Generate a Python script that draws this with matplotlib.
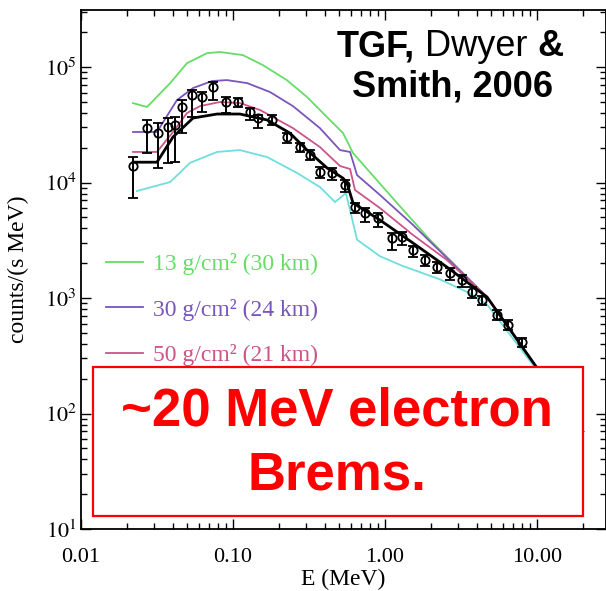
import matplotlib
matplotlib.use("Agg")
import matplotlib.pyplot as plt
import matplotlib.patches as mpatches
from matplotlib.ticker import FixedLocator, NullFormatter, LogLocator
import numpy as np

plt.rcParams['font.family'] = 'Liberation Serif'
plt.rcParams['mathtext.fontset'] = 'stix'

# measured spectrum (E in MeV, counts/(s MeV)) with error bar ends
E_data = [0.0220, 0.0272, 0.0321, 0.0373, 0.0415, 0.0461, 0.0537, 0.0625, 0.0738, 0.0900,
          0.108, 0.129, 0.146, 0.181, 0.226, 0.276, 0.321, 0.373, 0.448, 0.546,
          0.635, 0.738, 0.900, 1.11, 1.29, 1.53, 1.83, 2.20, 2.68, 3.21,
          3.73, 4.35, 5.46, 6.44, 7.96]
C_data = [13900, 29600, 26800, 30200, 31500, 45100, 57200, 55000, 67100, 49800,
          49800, 40800, 36200, 34800, 24800, 20300, 17300, 12300, 12100, 9510,
          6140, 5450, 4930, 3310, 3380, 2610, 2130, 1850, 1650, 1430,
          1130, 961, 713, 584, 416]
C_lo = [7340, 18000, 13400, 14800, 15000, 26800, 36900, 40800, 51800, 40000,
        45100, 34800, 29600, 31500, 22000, 18400, 15700, 10900, 10500, 8280,
        5450, 4550, 4120, 2610, 2880, 2260, 1890, 1650, 1430, 1250,
        1000, 869, 645, 528, 377]
C_hi = [16600, 34800, 32700, 36200, 36900, 51800, 63200, 60800, 74200, 55000,
        53900, 44200, 38400, 38400, 26800, 22000, 19100, 13600, 13400, 10500,
        6650, 6010, 5450, 3660, 3730, 2820, 2360, 2050, 1820, 1580,
        1250, 1040, 787, 645, 451]

# model spectra
E_13 = [0.022, 0.0272, 0.0386, 0.0498, 0.0675, 0.082, 0.116, 0.157, 0.226, 0.307,
        0.415, 0.53, 0.616, 1.2, 1.98, 4.69, 9.7]
C_13 = [48700, 45100, 72600, 108000, 132000, 135000, 127000, 104000, 77100, 55000,
        36900, 26800, 18000, 6650, 3180, 1020, 263]

E_30 = [0.022, 0.0316, 0.0428, 0.0546, 0.0728, 0.0914, 0.124, 0.175, 0.248, 0.373,
        0.506, 0.589, 0.655, 0.927, 1.53, 4.69, 9.7]
C_30 = [27400, 27400, 51800, 65800, 75700, 77100, 72600, 60800, 45900, 29600,
        19100, 18400, 11600, 7800, 4290, 1020, 263]

E_50 = [0.022, 0.0316, 0.0403, 0.0498, 0.0607, 0.082, 0.111, 0.151, 0.248, 0.373,
        0.506, 0.589, 0.635, 0.927, 1.53, 2.56, 4.69, 9.7]
C_50 = [18400, 18400, 27400, 40000, 45900, 49800, 48800, 42400, 29600, 20300,
        13900, 13100, 8610, 6010, 3510, 2130, 1020, 263]

E_cyan = [0.0233, 0.0386, 0.0521, 0.0785, 0.111, 0.168, 0.264, 0.373, 0.469, 0.553,
          0.655, 0.927, 1.3, 2.3, 3.62, 4.69, 9.7]
C_cyan = [8440, 10100, 14800, 18400, 19100, 16600, 12100, 9140, 6780, 8110,
          3200, 2300, 1900, 1450, 1100, 880, 250]

E_best = [0.022, 0.0316, 0.0403, 0.0546, 0.0785, 0.111, 0.168, 0.237, 0.307, 0.415,
          0.53, 0.562, 0.616, 0.927, 1.53, 2.56, 4.69, 9.7, 20]
C_best = [15000, 15000, 24800, 36200, 39200, 39200, 34800, 26800, 19100, 13400,
          10900, 9910, 6650, 4730, 2990, 1850, 1020, 263, 70]

xticks = [0.01, 0.1, 1, 10]
xticklabels = ["0.01", "0.10", "1.00", "10.00"]
yticks = [10, 100, 1000, 10000, 100000]
yticklabels = [r"$10^{1}$", r"$10^{2}$", r"$10^{3}$", r"$10^{4}$", r"$10^{5}$"]

green = "#66dd66"
purple = "#7a55bb"
pink = "#cc5588"
cyan = "#70dede"

fig = plt.figure(figsize=(6.06, 5.91), dpi=100)
ax = fig.add_axes([81 / 606, 62 / 591, 524.5 / 606, 519 / 591])

ax.plot(E_cyan, C_cyan, color=cyan, lw=1.3)
ax.plot(E_13, C_13, color=green, lw=1.3, label="13 g/cm² (30 km)")
ax.plot(E_30, C_30, color=purple, lw=1.3, label="30 g/cm² (24 km)")
ax.plot(E_50, C_50, color=pink, lw=1.3, label="50 g/cm² (21 km)")
ax.plot(E_best, C_best, color="black", lw=2.0)

C_data = np.array(C_data)
yerr = [C_data - np.array(C_lo), np.array(C_hi) - C_data]
ax.errorbar(E_data, C_data, yerr=yerr, fmt='o', ms=6, mfc='none', mec='black',
            mew=1.3, ecolor='black', elinewidth=1.4, capsize=3.5, capthick=1.4, zorder=5)

ax.set_xscale('log')
ax.set_yscale('log')
ax.set_xlim(0.01, 10 ** 1.4507)
ax.set_ylim(10, 10 ** 5.494)

ax.xaxis.set_major_locator(FixedLocator(xticks))
ax.set_xticklabels(xticklabels)
ax.yaxis.set_major_locator(FixedLocator(yticks))
ax.set_yticklabels(yticklabels)
ax.xaxis.set_minor_locator(LogLocator(base=10, subs=np.arange(2, 10)))
ax.yaxis.set_minor_locator(LogLocator(base=10, subs=np.arange(2, 10)))
ax.xaxis.set_minor_formatter(NullFormatter())
ax.yaxis.set_minor_formatter(NullFormatter())
ax.tick_params(which='both', direction='in', top=True, right=True, width=1.0, labelsize=16)
ax.tick_params(which='major', length=7)
ax.tick_params(which='minor', length=4)
ax.tick_params(axis='x', pad=14)
ax.tick_params(axis='y', pad=3)
for s in ax.spines.values():
    s.set_linewidth(1.3)

ax.set_xlabel("E (MeV)", fontsize=17, labelpad=1)
ax.set_ylabel("counts/(s MeV)", fontsize=17, labelpad=11)

leg = ax.legend(loc='upper left', bbox_to_anchor=(106 / 606, 1 - 253 / 591),
                bbox_transform=fig.transFigure, frameon=False, fontsize=17,
                handlelength=1.55, handletextpad=0.45, labelspacing=1.0,
                borderpad=0, borderaxespad=0)
for txt, c in zip(leg.get_texts(), [green, purple, pink]):
    txt.set_color(c)

# red annotation box
box = mpatches.Rectangle((93 / 606, 1 - 516 / 591), 490 / 606, 149 / 591,
                         transform=fig.transFigure, facecolor='white',
                         edgecolor='#ff0000', lw=1.6, zorder=5)
fig.patches.append(box)
fig.text(337 / 606, 1 - 425 / 591, "~20 MeV electron", color='#ff0000',
         family='Liberation Sans', weight='bold', fontsize=38, ha='center',
         va='baseline', zorder=6)
fig.text(337 / 606, 1 - 490 / 591, "Brems.", color='#ff0000',
         family='Liberation Sans', weight='bold', fontsize=38, ha='center',
         va='baseline', zorder=6)

# reference text, mixed weights on first line
renderer = fig.canvas.get_renderer()
x = 337
gap = 0.278 * 26 * 100 / 72
for s, w in [("TGF,", 'bold'), ("Dwyer", 'normal'), ("&", 'bold')]:
    t = fig.text(x / 606, 1 - 56 / 591, s, family='Liberation Sans', weight=w,
                 fontsize=26, ha='left', va='baseline', color='black')
    x += t.get_window_extent(renderer).width + gap
fig.text(452 / 606, 1 - 97 / 591, "Smith, 2006", family='Liberation Sans',
         weight='bold', fontsize=26, ha='center', va='baseline', color='black')

fig.savefig("out.png", dpi=100)
